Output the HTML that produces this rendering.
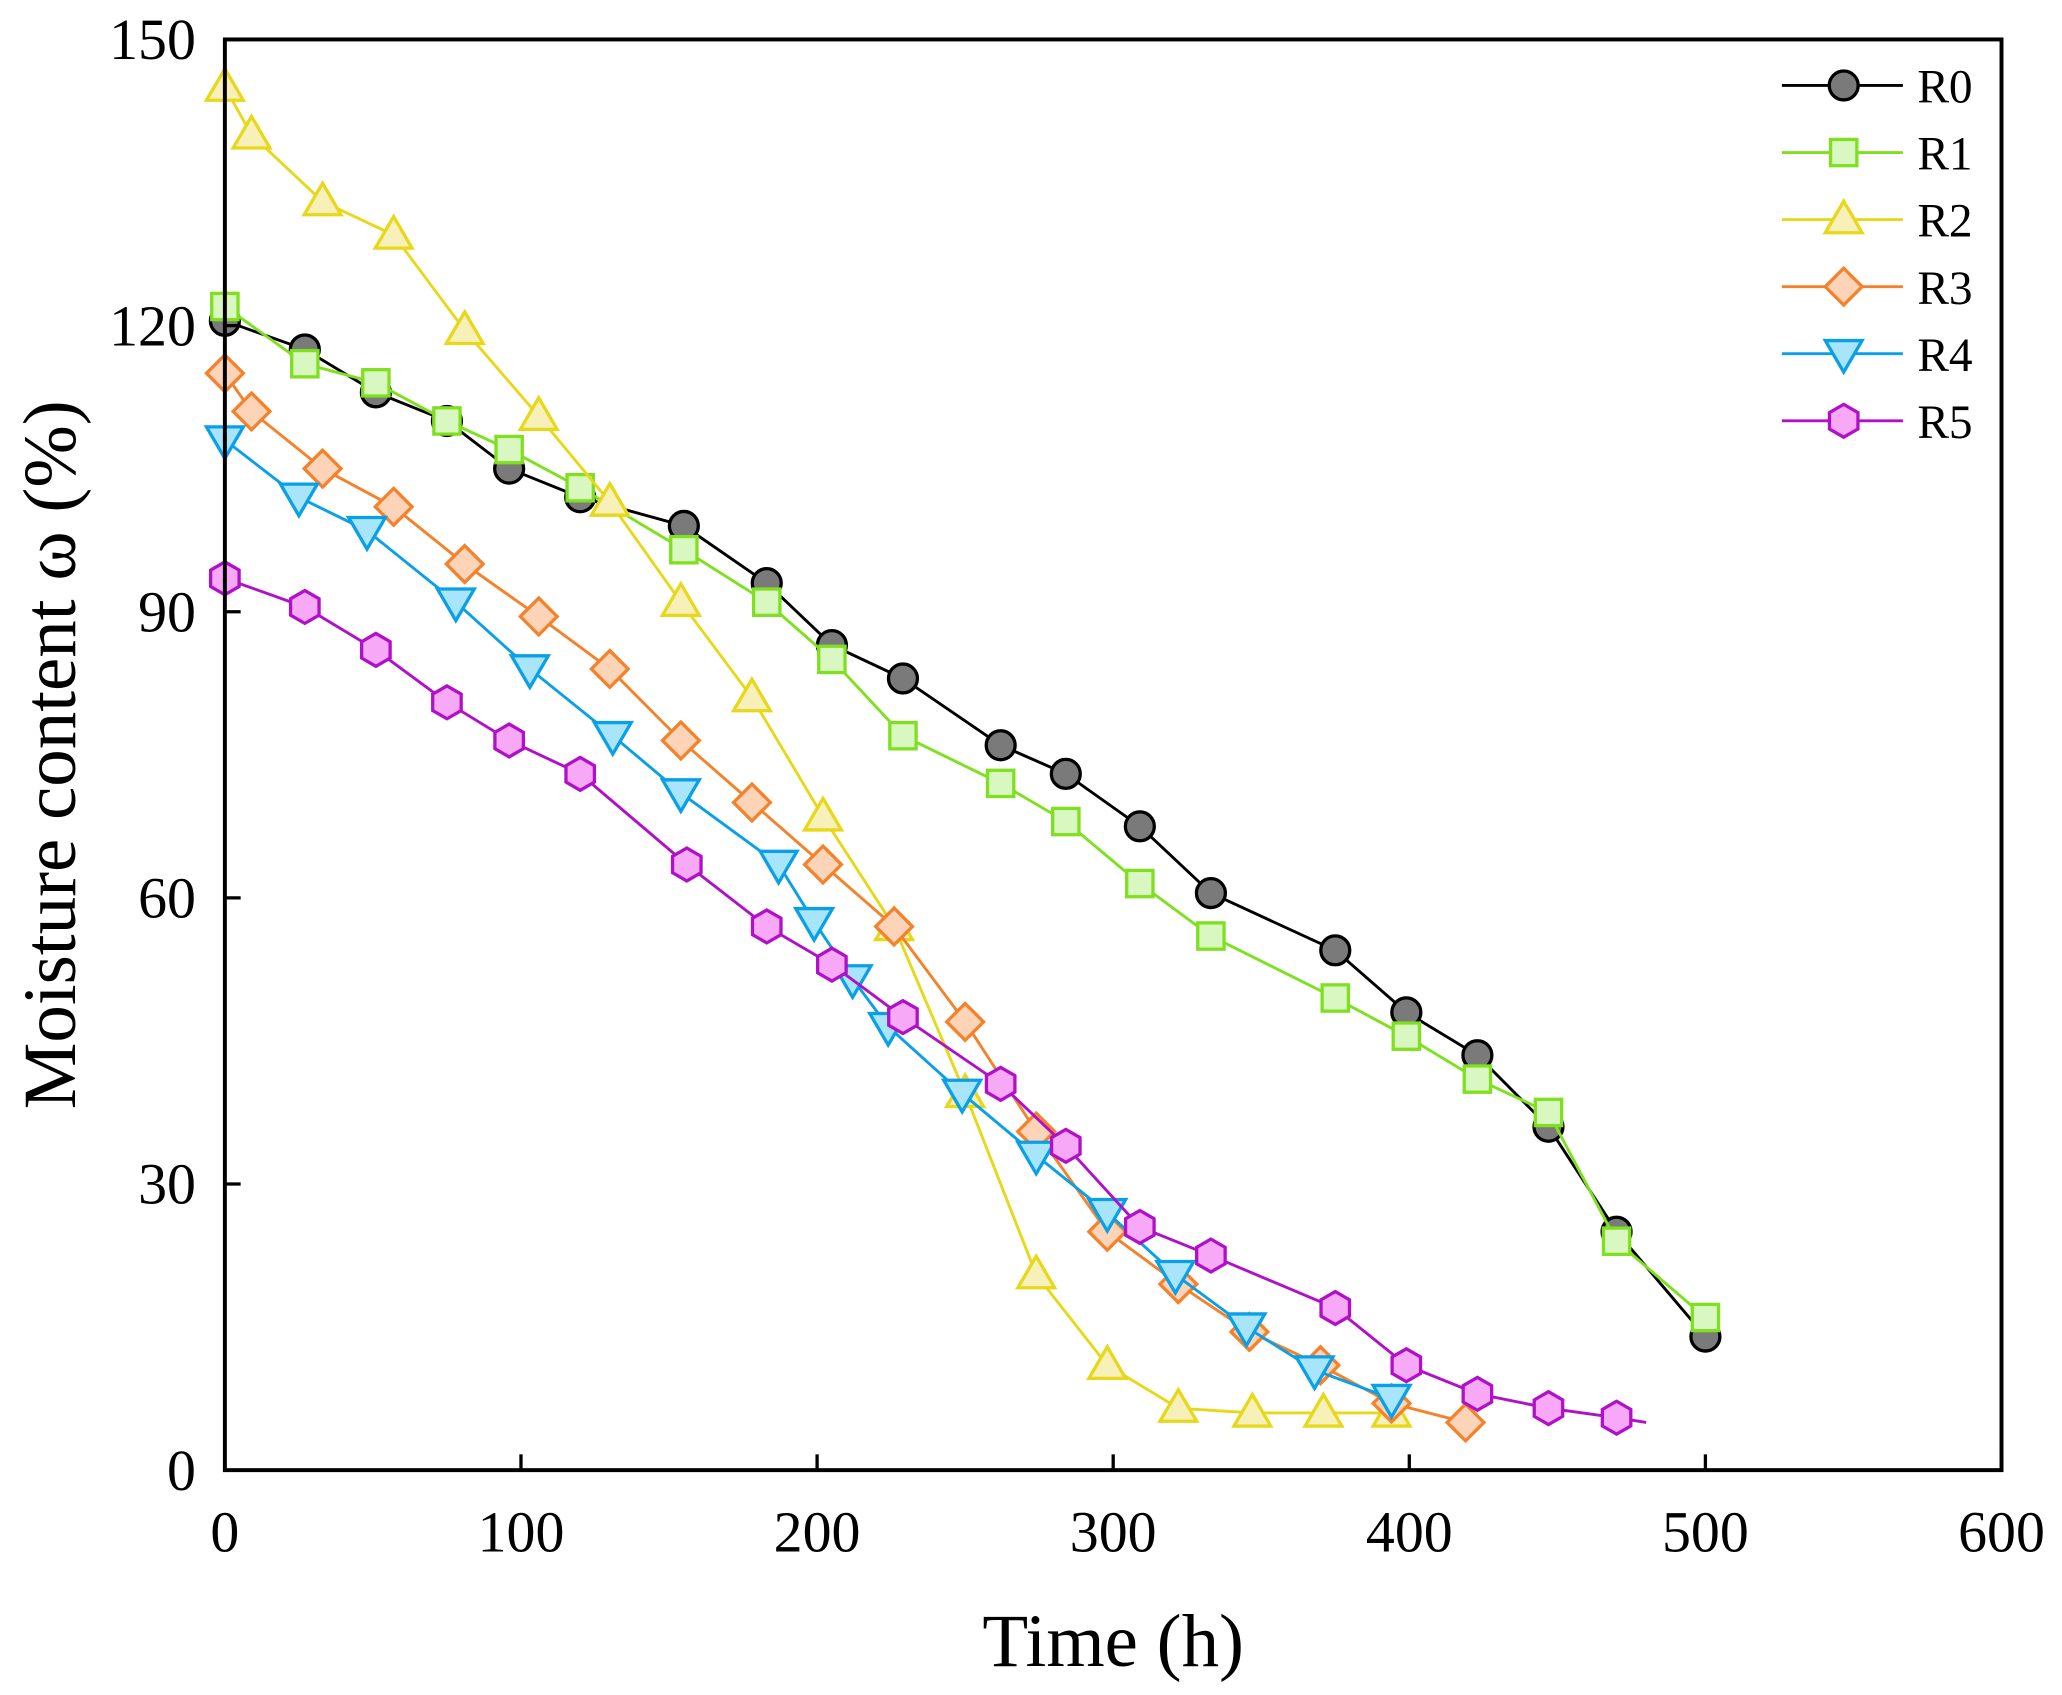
<!DOCTYPE html>
<html><head><meta charset="utf-8"><style>html,body{margin:0;padding:0;background:#fff}svg{display:block}</style></head>
<body>
<svg id="chart" width="2062" height="1695" viewBox="0 0 1568 1289" preserveAspectRatio="none" xmlns="http://www.w3.org/2000/svg" font-family="'Liberation Serif', serif"></svg>
<script>
const xTicks=[0,100,200,300,400,500,600];
const yTicks=[0,30,60,90,120,150];
const seriesNames=["R0","R1","R2","R3","R4","R5"];
const r0X=[0,27,51,75,96,120,155,183,205,229,262,284,309,333,375,399,423,447,470,500];
const r0Y=[120.5,117.5,113,110,105,102,99,93,86.5,83,76,73,67.5,60.5,54.5,48,43.5,36,25,14];
const r1X=[0,27,51,75,96,120,155,183,205,229,262,284,309,333,375,399,423,447,470,500];
const r1Y=[122,116,114,110,107,103,96.5,91,85,77,72,68,61.5,56,49.5,45.5,41,37.5,24,16];
const r2X=[0,9,33,57,81,106,130,154,178,202,226,250,274,298,322,347,371,394];
const r2Y=[145,140,133,129.5,119.5,110.5,101.5,91,81,68.5,57,39.5,20.5,11,6.5,6,6,6];
const r3X=[0,9,33,57,81,106,130,154,178,202,226,250,274,298,322,346,370,394,419];
const r3Y=[115,111,105,101,95,89.5,84,76.5,70,63.5,57,47,35.5,25,19.5,14.5,11,7,5];
const r4X=[0,25,48,78,103,131,154,187,199,212,224,249,274,298,321,345,368,394];
const r4Y=[108,102,98.5,91,84,77,71,63.5,57.5,51.5,46.5,39.5,33,27,20.5,15,10.5,7.5];
const r5X=[0,27,51,75,96,120,156,183,205,229,262,284,309,333,375,399,423,447,470];
const r5Y=[93.5,90.5,86,80.5,76.5,73,63.5,57,53,47.5,40.5,34,25.5,22.5,17,11,8,6.5,5.5];

const L=171,R=1522,T=30,B=1118;
const sx=v=>L+(R-L)*v/600, sy=v=>B-(B-T)*v/150;
const NS="http://www.w3.org/2000/svg";
const svg=document.getElementById("chart");
function mk(tag,at,parent){const e=document.createElementNS(NS,tag);for(const k in at)e.setAttribute(k,at[k]);(parent||svg).appendChild(e);return e;}
const styles=[
 {shape:"circle",fill:"#7a7a7a",stroke:"#000"},
 {shape:"square",fill:"#d9f7c0",stroke:"#7ee01f"},
 {shape:"tri",fill:"#f7f0b8",stroke:"#e8d81a"},
 {shape:"diamond",fill:"#fdd4b8",stroke:"#f5822a"},
 {shape:"tridown",fill:"#a8e4fa",stroke:"#0aa0e8"},
 {shape:"hex",fill:"#f7a8f7",stroke:"#b010c8"}];
const xs=[r0X,r1X,r2X,r3X,r4X,r5X], ys=[r0Y,r1Y,r2Y,r3Y,r4Y,r5Y];
function marker(g,st,x,y){
 const a={fill:st.fill,stroke:st.stroke,"stroke-width":2.5};let e;
 if(st.shape==="circle"){e=mk("circle",Object.assign({cx:x,cy:y,r:11},a),g);}
 else if(st.shape==="square"){e=mk("rect",Object.assign({x:x-10,y:y-10,width:20,height:20},a),g);}
 else{let p;
  if(st.shape==="tri")p=[[x,y-14],[x+14,y+10],[x-14,y+10]];
  else if(st.shape==="tridown")p=[[x-14,y-10],[x+14,y-10],[x,y+14]];
  else if(st.shape==="diamond")p=[[x,y-14],[x+14,y],[x,y+14],[x-14,y]];
  else{p=[];for(let i=0;i<6;i++){const t=Math.PI/6+i*Math.PI/3;p.push([x+12.5*Math.cos(t),y+12.5*Math.sin(t)]);}}
  e=mk("polygon",Object.assign({points:p.map(q=>q.join(",")).join(" ")},a),g);}
 return e;}
for(let s=0;s<6;s++){
 const g=mk("g",{});
 
 
 const pts=xs[s].map((v,i)=>sx(v)+","+sy(ys[s][i]));
 if(s===5)pts.push(sx(480)+","+sy(5));
 const pl=mk("polyline",{points:pts.join(" "),fill:"none",stroke:styles[s].stroke,"stroke-width":2.2},g);
 
 
 xs[s].forEach((v,i)=>{const m=marker(g,styles[s],sx(v),sy(ys[s][i]));
  
  });
}
const fr=mk("rect",{x:L,y:T,width:R-L,height:B-T,fill:"none",stroke:"#000","stroke-width":3});


xTicks.forEach(v=>{
 mk("line",{x1:sx(v),x2:sx(v),y1:B,y2:B-12,stroke:"#000","stroke-width":2.5});
 const t=mk("text",{x:sx(v),y:B+62,"text-anchor":"middle","font-size":44});t.textContent=v;
 
 });
yTicks.forEach(v=>{
 mk("line",{x1:L,x2:L+12,y1:sy(v),y2:sy(v),stroke:"#000","stroke-width":2.5});
 const t=mk("text",{x:L-22,y:sy(v)+15,"text-anchor":"end","font-size":44});t.textContent=v;
 
 });
const xt=mk("text",{x:(L+R)/2,y:1267,"text-anchor":"middle","font-size":57});xt.textContent="Time (h)";


const yt=mk("text",{x:0,y:0,"text-anchor":"middle","font-size":57,transform:"translate(57,574) rotate(-90)"});yt.textContent="Moisture content ω (%)";


for(let s=0;s<6;s++){
 const y=65+51*s;
 const g=mk("g",{});
 
 
 mk("line",{x1:1355,x2:1447,y1:y,y2:y,stroke:styles[s].stroke,"stroke-width":2.2},g);
 marker(g,styles[s],1402,y);
 const t=mk("text",{x:1458,y:y+13,"font-size":36},g);t.textContent=seriesNames[s];
}
</script>
</body></html>
